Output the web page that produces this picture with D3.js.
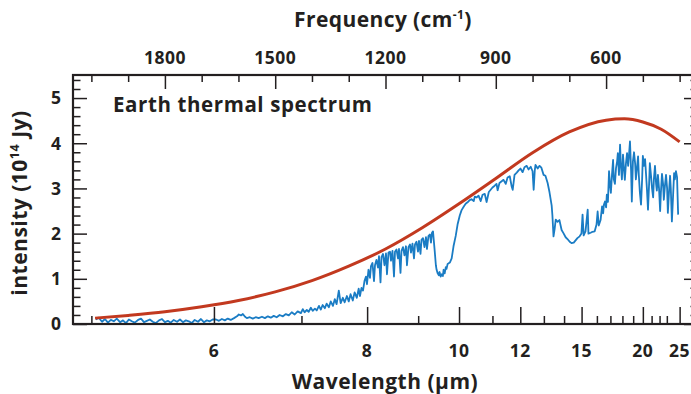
<!DOCTYPE html>
<html><head><meta charset="utf-8">
<script src="https://cdn.jsdelivr.net/npm/d3@7"></script>
<style>
body{margin:0;background:#fff}
svg{display:block}
text{font-family:"Open Sans",sans-serif;fill:#231f20;font-weight:700}
</style>
</head><body>
<svg id="c" width="691" height="394"></svg>
<script>
// ---- data ----
const freqTicks = [1800, 1500, 1200, 900, 600];
const freqMinor = [2000, 1900, 1700, 1600, 1400, 1300, 1100, 1000, 800, 700, 500, 400];
const waveTicks = [6, 8, 10, 12, 15, 20, 25];
const waveMinor = [5, 7, 9, 11, 13, 14, 16, 17, 18, 19, 21, 22, 23];
const yTicks = [0, 1, 2, 3, 4, 5];

// blackbody reference curve (wavenumber cm^-1, intensity 1e14 Jy)
const bbNu = [1990,1900,1800,1700,1600,1500,1400,1300,1200,1100,1000,900,800,700,600,550,500,450,400];
const bbI  = [0.13,0.19,0.27,0.38,0.52,0.71,0.96,1.28,1.66,2.13,2.66,3.22,3.79,4.25,4.51,4.54,4.47,4.31,4.03];

// measured Earth spectrum (wavenumber cm^-1)
const specNu = [
 1988,1980,1971,1963,1955,1947,1939,1931,1922,1914,1906,1898,1890,1882,1873,1865,1857,1849,1841,1833,
 1825,1816,1808,1800,1792,1784,1776,1767,1759,1751,1743,1735,1727,1719,1710,1702,1694,1686,1678,1670,
 1661,1653,1645,1637,1629,1621,1612,1604,1599,1593,1588,1582,1577,1569,1561,1553,1545,1536,1528,1520,
 1512,1504,1496,1488,1479,1471,1463,1455,1447,1439,1430,1425,1420,1414,1409,1403,1398,1392,1387,1381,
 1376,1371,1365,1360,1354,1349,1343,1338,1333,1327,1322,1316,1311,1305,1300,1295,1289,1284,1278,1273,
 1269.4,1265.3,1261.2,1257.2,1253.1,1250.4,1246.3,1242.2,1239.5,1235.4,1231.3,1228.6,1224.5,1220.4,1217.7,
 1213.6,1210.9,1206.8,1202.8,1198.7,1196.0,1191.9,1187.8,1185.1,1181.0,1176.9,1174.2,1170.1,1166.0,1163.3,
 1159.2,1156.5,1152.4,1148.4,1144.3,1141.6,1137.5,1133.4,1130.7,1126.6,1122.5,1119.8,1115.7,1111.6,1108.9,
 1104.8,1102.1,1098.0,1094.0,1089.9,1087.2,1083.1,1079.0,1076.3,1073.6,1070.8,
 1066,1063,1061,1058,1055,1053,1050,1047,1044,1042,1039,1036,1034,1031,1025,1020,
 1015,1009,1004,998,993,987,982,976,971,966,960,957,952,947,941,936,930,925,919,914,
 909,903,898,895,890,884,879,873,868,862,857,854,849,843,838,833,827,822,816,811,
 805,800,797,794,792,786,781,776,770,765,759,
 754,748,746,743,740,737,732,727,721,716,710,705,699,694,688,683,678,672,667,664,
 661,656,650,648,642,637,631,626,623,620,615,
 611,608,606,603,600,598,595,592,589,587,584,581,579,576,573,570,568,565,562,560,
 557,554,551,549,546,543,540,538,535,532,530,527,524,521,519,516,513,511,508,505,
 502,500,497,494,492,489,486,483,481,478,475,472,470,467,464,462,459,456,453,451,
 448,445,443,440,437,434,432,429,426,424,421,418,415,413,410,407,404
];
const specI = [
 0.10,0.14,0.05,0.11,0.03,0.09,0.06,0.12,0.04,0.08,0.02,0.10,0.06,0.03,0.09,0.12,0.04,0.07,0.10,0.05,
 0.02,0.08,0.11,0.04,0.07,0.03,0.09,0.05,0.10,0.04,0.08,0.06,0.02,0.09,0.05,0.11,0.04,0.08,0.06,0.10,
 0.10,0.07,0.11,0.08,0.12,0.09,0.13,0.17,0.21,0.19,0.22,0.16,0.13,0.15,0.12,0.15,0.13,0.16,0.13,0.17,
 0.14,0.18,0.15,0.20,0.17,0.22,0.19,0.26,0.21,0.28,0.24,0.33,0.26,0.31,0.27,0.36,0.29,0.34,0.30,0.40,
 0.32,0.42,0.35,0.45,0.37,0.50,0.40,0.55,0.44,0.74,0.46,0.58,0.48,0.62,0.50,0.66,0.52,0.70,0.58,0.78,
 0.62,0.80,0.74,0.95,1.05,0.88,1.20,1.02,1.28,1.35,0.95,1.30,1.42,1.25,1.50,
 0.92,1.48,1.55,1.30,1.56,1.10,1.58,1.60,1.40,1.62,1.05,1.60,1.65,1.45,1.66,
 1.13,1.62,1.70,1.52,1.72,1.30,1.70,1.76,1.58,1.78,1.45,1.76,1.82,1.60,1.84,
 1.55,1.86,1.90,1.70,1.92,1.66,1.95,1.98,1.80,2.02,2.05,
 1.60,1.30,1.20,1.12,1.08,1.15,1.05,1.10,1.06,1.20,1.12,1.26,1.22,1.33,1.36,1.45,
 1.72,1.95,2.20,2.40,2.52,2.60,2.66,2.70,2.74,2.76,2.72,2.82,2.80,2.84,2.72,2.86,2.88,2.70,2.92,2.97,
 3.02,3.06,3.10,2.96,3.12,3.16,3.19,3.10,3.24,3.27,3.05,2.97,3.30,3.35,3.40,3.44,3.36,3.47,3.50,3.42,
 3.48,3.38,2.97,3.40,3.52,3.44,3.50,3.46,3.30,3.28,3.12,
 2.92,2.62,2.40,1.94,2.10,2.31,2.26,2.30,2.08,2.01,1.92,1.88,1.82,1.79,1.80,1.85,1.90,1.94,2.00,2.42,
 1.96,2.05,2.53,2.00,2.02,2.04,2.05,2.20,2.49,2.18,2.30,
 2.60,2.45,2.64,2.71,2.58,2.86,2.70,3.38,3.05,2.90,3.30,3.63,3.20,3.10,3.45,3.60,3.78,3.30,3.97,3.55,
 3.20,3.75,3.40,3.19,3.55,3.78,3.50,3.70,4.04,3.40,2.71,3.60,3.80,3.55,3.20,3.45,3.71,3.30,2.90,2.64,
 3.20,3.72,3.50,3.65,3.40,3.00,2.53,3.10,3.56,3.30,3.00,2.80,3.20,3.50,3.10,2.95,3.30,3.00,2.50,2.90,
 3.32,3.10,2.75,3.05,3.30,3.00,2.46,2.90,3.28,3.00,2.27,2.80,3.34,3.20,3.38,3.25,2.42
];

// ---- layout ----
const L = 73, R = 698, T = 75, B = 324;
const svg = d3.select("#c");
const x = d3.scaleLinear().domain([2050, 350]).range([L, R]);
const y = d3.scaleLinear().domain([0, 5.51]).range([B, T]);
const ink = "#231f20";

svg.append("clipPath").attr("id", "pc").append("rect")
  .attr("x", L).attr("y", T).attr("width", R - L).attr("height", B - T);

const bb = bbNu.map((n, i) => [n, bbI[i]]);
const spec = specNu.map((n, i) => [n, specI[i]]);

const g = svg.append("g").attr("clip-path", "url(#pc)");
g.append("path").datum(spec)
  .attr("fill", "none").attr("stroke", "#1a7cc4").attr("stroke-width", 1.8)
  .attr("stroke-linejoin", "round")
  .attr("d", d3.line().x(d => x(d[0])).y(d => y(d[1])));
g.append("path").datum(bb)
  .attr("fill", "none").attr("stroke", "#c2391f").attr("stroke-width", 3)
  .attr("d", d3.line().curve(d3.curveMonotoneX).x(d => x(d[0])).y(d => y(d[1])));

const yMinor = d3.range(0, 5.5, 0.2).map(v => +v.toFixed(1)).filter(v => !yTicks.includes(v));

function styleAxis(sel) {
  sel.select(".domain").remove();
  sel.selectAll(".tick line").attr("stroke", ink).attr("stroke-width", 1.5);
}
function addAxis(gen, tx, ty) {
  svg.append("g").attr("transform", `translate(${tx},${ty})`).call(gen).call(styleAxis);
}
// left / right
addAxis(d3.axisRight(y).tickValues(yTicks).tickSize(14).tickFormat(""), L, 0);
addAxis(d3.axisRight(y).tickValues(yMinor).tickSize(7.5).tickFormat(""), L, 0);
addAxis(d3.axisLeft(y).tickValues(yTicks).tickSize(14).tickFormat(""), R, 0);
addAxis(d3.axisLeft(y).tickValues(yMinor).tickSize(7.5).tickFormat(""), R, 0);
// top (frequency)
addAxis(d3.axisBottom(x).tickValues(freqTicks).tickSize(14).tickFormat(""), 0, T);
addAxis(d3.axisBottom(x).tickValues(freqMinor).tickSize(7).tickFormat(""), 0, T);
// bottom (wavelength)
addAxis(d3.axisTop(x).tickValues(waveTicks.map(w => 1e4 / w)).tickSize(17).tickFormat(""), 0, B);
addAxis(d3.axisTop(x).tickValues(waveMinor.map(w => 1e4 / w)).tickSize(8).tickFormat(""), 0, B);

// frame
svg.append("rect").attr("x", L).attr("y", T).attr("width", R - L).attr("height", B - T)
  .attr("fill", "none").attr("stroke", ink).attr("stroke-width", 2.2);

// tick labels
svg.append("g").selectAll("text").data(freqTicks).join("text")
  .attr("x", d => x(d)).attr("y", 64).attr("text-anchor", "middle")
  .attr("font-size", 17.5).attr("letter-spacing", 0.5).text(d => d);
svg.append("g").selectAll("text").data(waveTicks).join("text")
  .attr("x", d => x(1e4 / d)).attr("y", 357).attr("text-anchor", "middle")
  .attr("font-size", 17.5).attr("letter-spacing", 0.5).text(d => d);
svg.append("g").selectAll("text").data(yTicks).join("text")
  .attr("x", 61).attr("y", d => y(d)).attr("dy", "0.36em").attr("text-anchor", "end")
  .attr("font-size", 17.5).text(d => d);

// titles
const ft = svg.append("text").attr("x", 383).attr("y", 27).attr("text-anchor", "middle")
  .attr("font-size", 21).attr("letter-spacing", 0.4);
ft.append("tspan").text("Frequency (cm");
ft.append("tspan").attr("font-size", 12).attr("dy", -8).text("-1");
ft.append("tspan").attr("dy", 8).text(")");

svg.append("text").attr("x", 385).attr("y", 389).attr("text-anchor", "middle")
  .attr("font-size", 21).attr("letter-spacing", 0.5).text("Wavelength (\u03bcm)");

const yt = svg.append("text").attr("transform", "translate(27,203) rotate(-90)")
  .attr("text-anchor", "middle").attr("font-size", 21).attr("letter-spacing", 0.5);
yt.append("tspan").text("intensity (10");
yt.append("tspan").attr("font-size", 12.5).attr("dy", -8).text("14");
yt.append("tspan").attr("dy", 8).text(" Jy)");

svg.append("text").attr("x", 113).attr("y", 112)
  .attr("font-size", 20.5).attr("letter-spacing", 0.6).text("Earth thermal spectrum");
</script>
</body></html>
